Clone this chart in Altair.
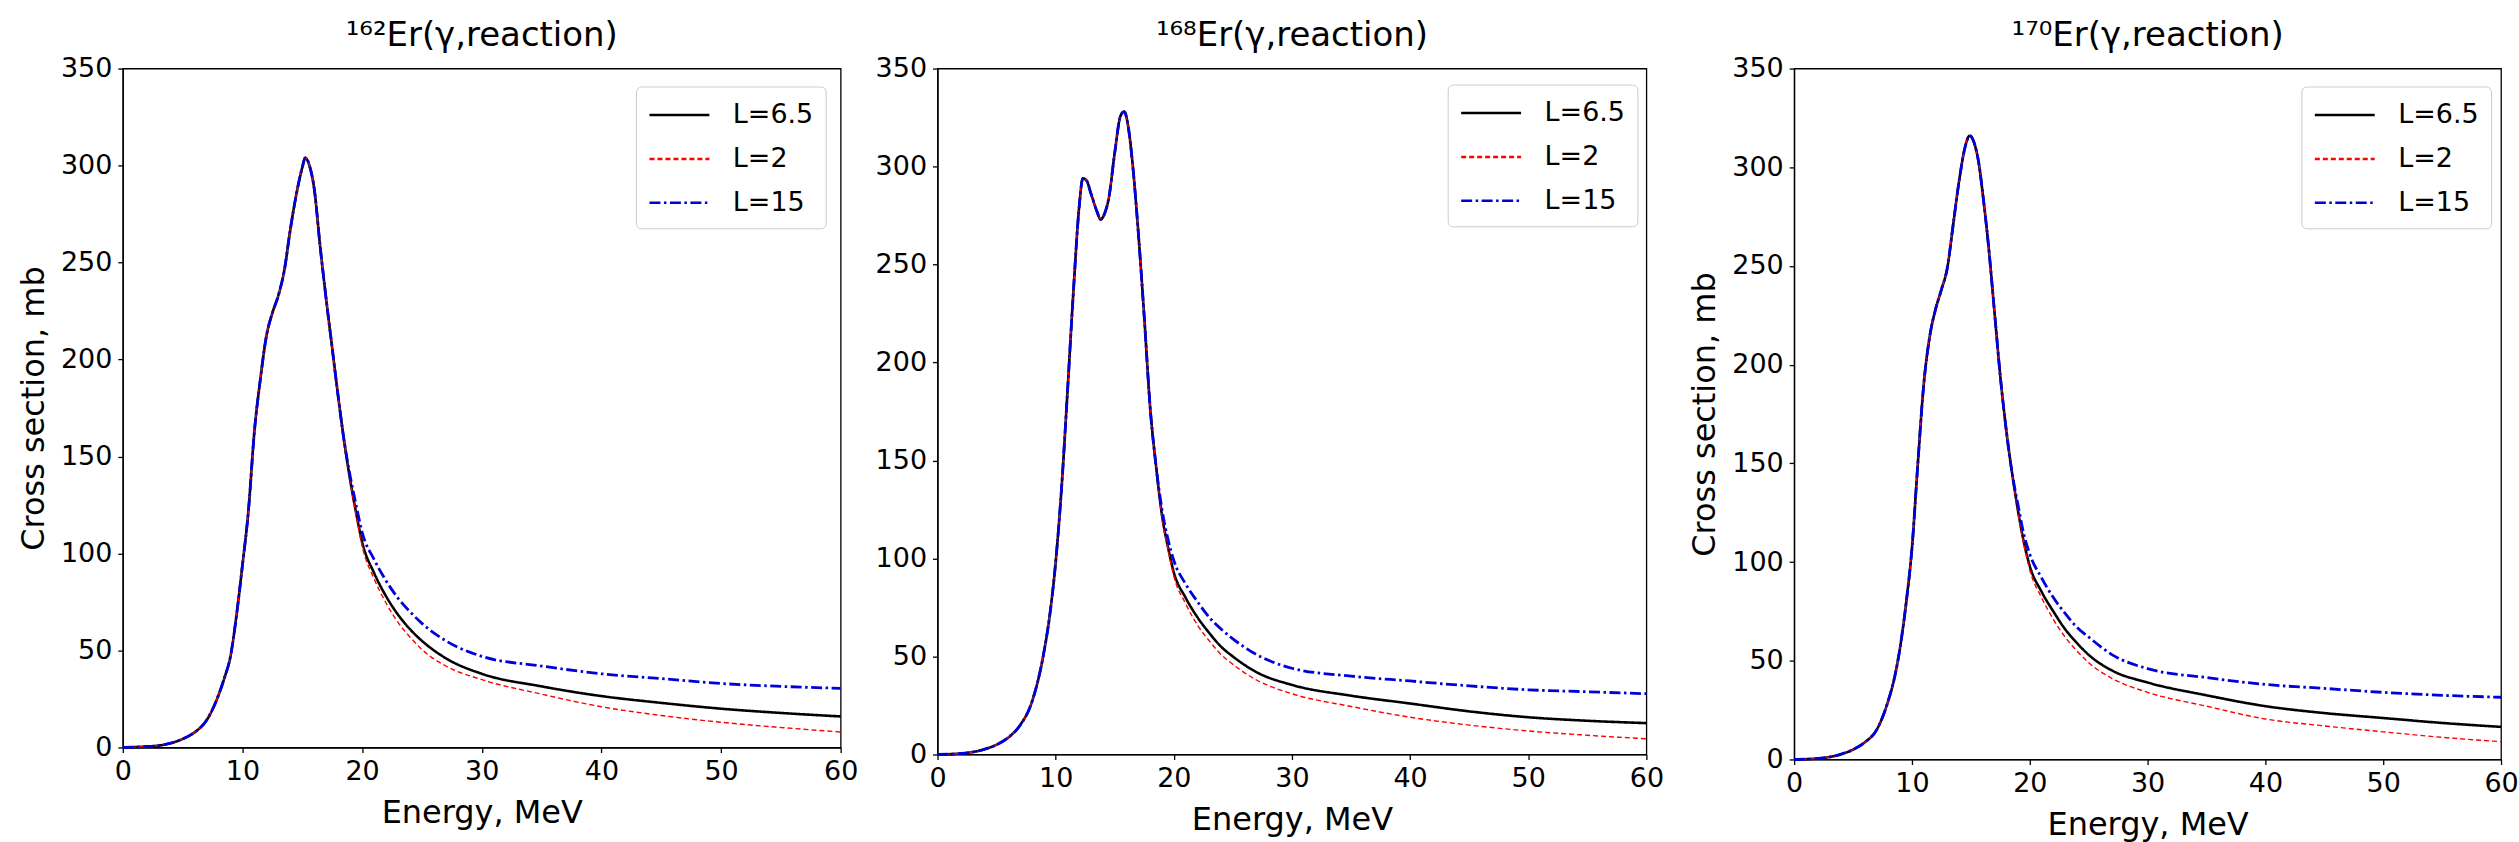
import altair as alt
import pandas as pd

FONT = "DejaVu Sans"

SERIES = ["L=6.5", "L=2", "L=15"]
SERIES_COLORS = ["#000000", "#ff0000", "#0000dd"]
SERIES_DASH = [[1, 0], [5, 3], [11, 3.5, 2.5, 3.5]]
SERIES_WIDTH = [2.6, 1.4, 2.8]

X_TICKS = [0, 10, 20, 30, 40, 50, 60]
Y_TICKS = [0, 50, 100, 150, 200, 250, 300, 350]

# Energies where the three curves separate (tail region)
TAIL_E = [19, 19.5, 20, 21, 22, 23, 24, 25, 27, 30, 35, 40, 45, 50, 55, 60]

# ---- 162Er ----
E1_PEAK = [0, 2, 3, 4, 5, 6, 7, 8, 8.5, 9, 9.5, 10, 10.5, 11, 11.5, 12, 12.5, 13,
           13.5, 14, 14.5, 15, 15.25, 15.6, 16, 16.5, 17, 17.5, 18, 18.5]
S1_PEAK = [0, 0.5, 1, 2.2, 4.4, 7.8, 14, 27, 36, 47, 68, 94, 122, 163, 190, 212, 224, 233,
           246, 267, 285, 299, 304, 300, 288, 258, 231, 206, 181, 158]
BLACK1 = [138, 121, 106, 90, 78, 68.5, 61, 55, 46, 38, 31.5, 26.5, 23, 20, 17.8, 16]
RED1 = [137.5, 120, 104, 87, 74.5, 64.5, 57, 50.5, 42, 35, 27.5, 21, 16.5, 13, 10.3, 8]
BLUE1 = [140, 125, 111, 97, 86, 77, 70, 64, 55, 47, 42, 38, 35.5, 33, 31.5, 30.5]

# ---- 168Er ----
E2_PEAK = [0, 2, 4, 5, 6, 7, 8, 9, 9.5, 10, 10.5, 11, 11.5, 12, 12.3, 12.6, 13, 13.5,
           13.8, 14.2, 14.5, 15, 15.5, 15.8, 16.2, 16.5, 17, 17.5, 18, 18.5]
S2_PEAK = [0, 0.5, 2.7, 5, 8.7, 15, 27, 52, 71, 98, 136, 185, 236, 280, 294, 293, 286, 277,
           273, 277, 284, 307, 326, 328, 318, 302, 266, 223, 177, 147]
BLACK2 = [122, 106, 93, 80, 70, 62, 55, 50, 42, 35.5, 30, 26, 22, 19, 17.2, 16]
RED2 = [121, 105, 91, 77, 66, 58, 51, 46, 38, 31, 24.5, 19, 15, 12, 9.8, 8]
BLUE2 = [125, 110, 99, 87, 78, 70, 64, 59, 51, 44, 40, 37.5, 35, 33, 32, 31]

# ---- 170Er ----
E3_PEAK = [0, 2, 4, 5, 6, 7, 8, 8.5, 9, 9.5, 10, 10.5, 11, 11.5, 12, 12.5, 13, 13.5,
           14, 14.5, 14.9, 15.3, 15.7, 16, 16.5, 17, 17.5, 18, 18.5]
S3_PEAK = [0, 0.5, 2.7, 5, 8.7, 15, 30, 41, 57, 79, 107, 150, 190, 214, 228, 238, 249, 271,
           293, 310, 316, 312, 301, 287, 260, 227, 194, 167, 145]
BLACK3 = [126, 110, 98, 85, 75, 66, 59, 53, 45, 39, 32.5, 27, 23.5, 21, 18.5, 16.5]
RED3 = [125, 109, 96, 82, 71, 62, 55, 49, 41, 34, 27, 20.5, 17, 14, 11.2, 9]
BLUE3 = [129, 114, 104, 92, 82, 74, 67, 62, 53, 46, 41.5, 38, 36, 34, 32.5, 31.5]

TITLES = ["¹⁶²Er(γ,reaction)", "¹⁶⁸Er(γ,reaction)", "¹⁷⁰Er(γ,reaction)"]


def make_df(e_peak, s_peak, tails):
    rows = []
    for name, tail in zip(SERIES, tails):
        for e, s in zip(e_peak, s_peak):
            rows.append({"E": e, "S": s, "series": name})
        for e, s in zip(TAIL_E, tail):
            rows.append({"E": e, "S": s, "series": name})
    return pd.DataFrame(rows)


def panel(df, title, width, height, ytitle, title_offset, legend_x, legend_y):
    legend = alt.Legend(
        title=None, orient="none", legendX=legend_x, legendY=legend_y,
        symbolType="M-1,0H3", symbolSize=900, labelOffset=52, symbolStrokeWidth=2.5,
        padding=12, rowPadding=14, labelFontSize=27, labelFont=FONT,
        labelColor="black", strokeColor="#cccccc", fillColor="white",
        cornerRadius=5,
    )
    y_axis = alt.Axis(values=Y_TICKS, labelFlush=False, labelOverlap=False,
                      title=ytitle if ytitle else None)
    enc = dict(
        x=alt.X("E:Q", scale=alt.Scale(domain=[0, 60], nice=False, zero=False),
                axis=alt.Axis(values=X_TICKS, title="Energy, MeV", labelFlush=False,
                              labelOverlap=False)),
        y=alt.Y("S:Q", scale=alt.Scale(domain=[0, 350], nice=False), axis=y_axis),
        color=alt.Color("series:N", scale=alt.Scale(domain=SERIES, range=SERIES_COLORS),
                        legend=legend),
        strokeDash=alt.StrokeDash("series:N", scale=alt.Scale(domain=SERIES, range=SERIES_DASH),
                                  legend=legend),
    )
    layers = []
    for name, w in zip(SERIES, SERIES_WIDTH):
        layers.append(
            alt.Chart(df).transform_filter(alt.datum.series == name)
            .mark_line(interpolate="monotone", strokeWidth=w).encode(**enc)
        )
    return alt.layer(*layers).properties(
        width=width, height=height,
        title=alt.TitleParams(text=title, fontSize=34, font=FONT, fontWeight="normal",
                              offset=title_offset, color="black", anchor="middle"),
    )


df1 = make_df(E1_PEAK, S1_PEAK, [BLACK1, RED1, BLUE1])
df2 = make_df(E2_PEAK, S2_PEAK, [BLACK2, RED2, BLUE2])
df3 = make_df(E3_PEAK, S3_PEAK, [BLACK3, RED3, BLUE3])

p1 = panel(df1, TITLES[0], 719, 680, "Cross section, mb", 2, 514, 18)
p2 = panel(df2, TITLES[1], 710, 687, None, 2, 511, 16)
p3 = panel(df3, TITLES[2], 708, 692, "Cross section, mb", 2, 508, 18)

indep = dict(color="independent", strokeDash="independent")

inner = alt.hconcat(p1, p2, spacing=15).resolve_scale(**indep).resolve_legend(**indep)
chart = (
    alt.hconcat(inner, p3, spacing=23)
    .resolve_scale(**indep)
    .resolve_legend(**indep)
    .properties(padding={"left": 16, "top": 17, "right": 0, "bottom": 0}, background="white")
    .configure_view(stroke="black", strokeWidth=1.3)
    .configure_axis(labelFont=FONT, labelFontSize=27, titleFont=FONT, titleFontSize=32,
                    titleFontWeight="normal", labelColor="black", titleColor="black",
                    domainColor="black", tickColor="black", domainWidth=1.3, tickWidth=1.3,
                    tickSize=5, grid=False, labelPadding=6)
    .configure_axisX(titlePadding=13)
    .configure_axisY(titlePadding=10)
)

chart.save("out.html", embed_options={"renderer": "svg", "actions": False})
